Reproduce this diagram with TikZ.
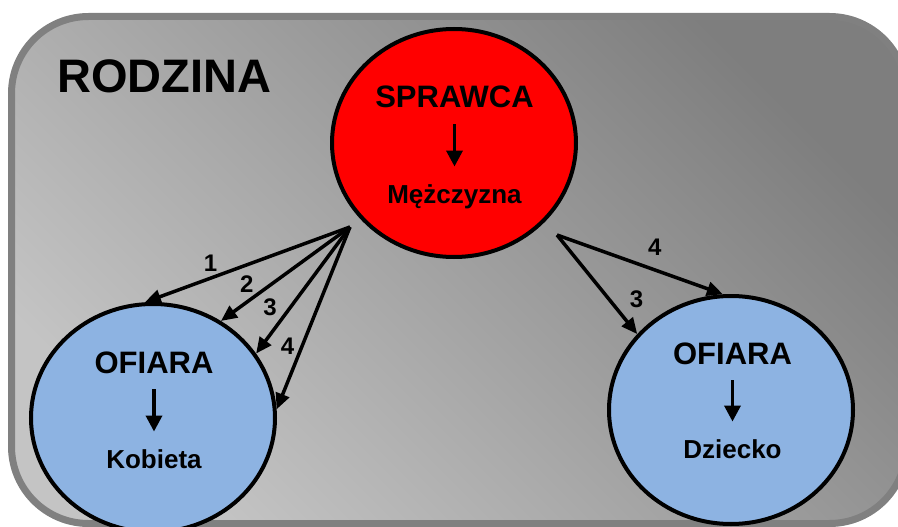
\documentclass[tikz,border=0pt]{standalone}
\usepackage{fontspec}
\setmainfont{Liberation Sans}
\usetikzlibrary{shapes.geometric,arrows.meta}

\definecolor{ramka}{HTML}{808080}
\definecolor{jasny}{HTML}{C4C4C4}
\definecolor{ciemny}{HTML}{7E7E7E}
\definecolor{niebieski}{HTML}{8DB3E2}
\definecolor{czerwony}{HTML}{FF0000}

\begin{document}
\begin{tikzpicture}[x=1pt,y=1pt,
    osoba/.style={ellipse, draw=black, line width=4pt, minimum width=244pt, minimum height=228pt, inner sep=0pt},
    tytul/.style={font=\fontsize{31}{31}\selectfont\bfseries, inner sep=0pt, text height=22pt, text depth=0pt},
    opis/.style={font=\fontsize{26}{26}\selectfont\bfseries, inner sep=0pt, text height=18.5pt, text depth=0pt},
    wdol/.style={-{Triangle[length=16pt,width=16pt]}, line width=3.5pt, shorten <=16pt, shorten >=18pt},
    rel/.style={-{Triangle[length=16pt,width=14pt]}, line width=3.5pt},
    nr/.style={font=\fontsize{24}{24}\selectfont\bfseries, inner sep=2pt}]

        \useasboundingbox (0,0) rectangle (898,-527);
        \clip (0,0) rectangle (898,-527);

        % Rodzina
        \path[draw=ramka, line width=7pt, rounded corners=77pt, top color=ciemny, bottom color=jasny, shading angle=-45]
            (11.5,-16.5) rectangle (906.5,-523.5);
        \node[font=\fontsize{47}{47}\selectfont\bfseries, anchor=base west, inner sep=0pt] (rodzina) at (57,-93) {RODZINA};

        % Sprawca
        \node[osoba, fill=czerwony] (sprawca) at (454,-143) {};
        \node[tytul] (sprawcaT) at (454.5,-97) {SPRAWCA};
        \node[opis] (sprawcaO) at (454.5,-194) {Mężczyzna};
        \draw[wdol] (sprawcaT) -- (sprawcaO);

        % Ofiara: kobieta
        \node[osoba, fill=niebieski] (kobieta) at (153,-418) {};
        \node[tytul] (kobietaT) at (154,-362) {OFIARA};
        \node[opis] (kobietaO) at (154,-459) {Kobieta};
        \draw[wdol] (kobietaT) -- (kobietaO);

        % Ofiara: dziecko
        \node[osoba, fill=niebieski] (dziecko) at (731,-410) {};
        \node[tytul] (dzieckoT) at (732.5,-353) {OFIARA};
        \node[opis] (dzieckoO) at (732.5,-449) {Dziecko};
        \draw[wdol] (dzieckoT) -- (dzieckoO);

        % Relacje
        \coordinate (zrodloK) at (350,-227);
        \coordinate (zrodloD) at (557,-235);
        \draw[rel] (zrodloK) -- (kobieta.94) node[nr, pos=0.68, above=3pt] {1};
        \draw[rel] (zrodloK) -- (kobieta.55) node[nr, pos=0.8, above=6pt] {2};
        \draw[rel] (zrodloK) -- (kobieta.32) node[nr, pos=0.635, left=10pt] {3};
        \draw[rel] (zrodloK) -- (kobieta.4) node[nr, pos=0.656, left=4pt] {4};
        \draw[rel] (zrodloD) -- (dziecko.94) node[nr, pos=0.59, above=11pt] {4};
        \draw[rel] (zrodloD) -- (dziecko.141) node[nr, pos=0.65, right=17pt] {3};

\end{tikzpicture}
\end{document}
